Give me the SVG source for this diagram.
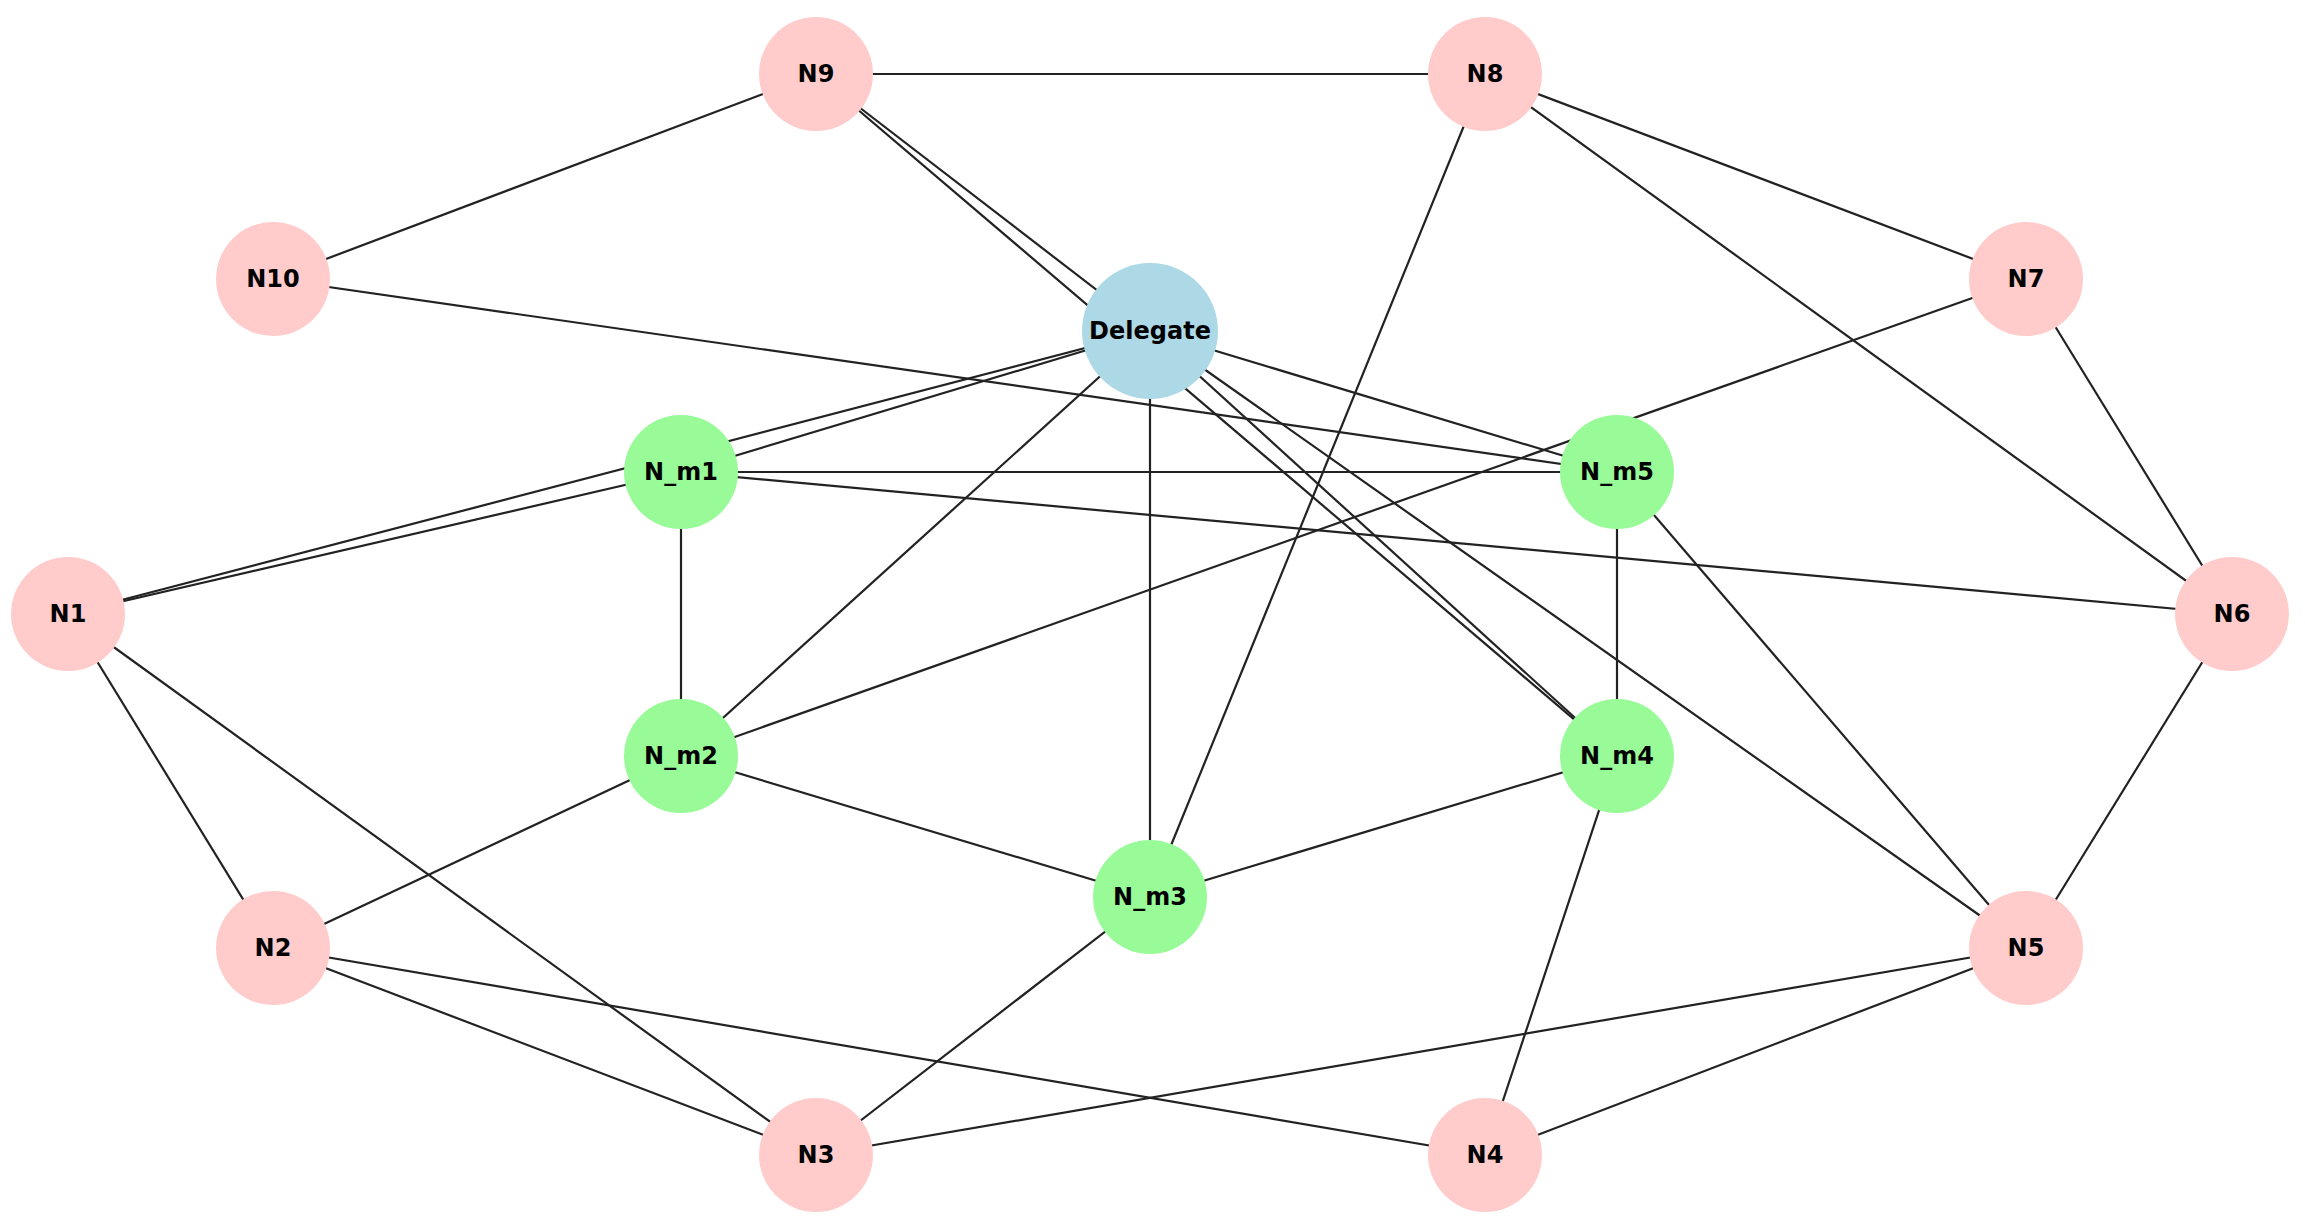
<svg xmlns="http://www.w3.org/2000/svg" width="2305" height="1226" viewBox="0 0 2305 1226">
<style>
.e{stroke:#222;stroke-width:2.2;fill:none}
.p{fill:#ffcccb}.g{fill:#98fb98}.b{fill:#add8e6}
text{font-family:"DejaVu Sans",sans-serif;font-weight:bold;font-size:24px;text-anchor:middle;dominant-baseline:central;fill:#000}
</style>
<rect width="2305" height="1226" fill="#fff"/>
<g id="edges" class="e">
<line x1="816" y1="74" x2="1485" y2="74"/>
<line x1="816" y1="74" x2="273" y2="279"/>
<line x1="816" y1="74" x2="1150" y2="331"/>
<line x1="816" y1="74" x2="1617" y2="756"/>
<line x1="1150" y1="331" x2="68" y2="614"/>
<line x1="681" y1="472" x2="68" y2="614"/>
<line x1="1150" y1="331" x2="681" y2="472"/>
<line x1="273" y1="279" x2="1617" y2="472"/>
<line x1="1150" y1="331" x2="1617" y2="472"/>
<line x1="1150" y1="331" x2="681" y2="756"/>
<line x1="1150" y1="331" x2="1150" y2="897"/>
<line x1="1150" y1="331" x2="2026" y2="948"/>
<line x1="1150" y1="331" x2="1617" y2="756"/>
<line x1="1485" y1="74" x2="1150" y2="897"/>
<line x1="1485" y1="74" x2="2026" y2="279"/>
<line x1="1485" y1="74" x2="2232" y2="614"/>
<line x1="2026" y1="279" x2="2232" y2="614"/>
<line x1="2026" y1="279" x2="681" y2="756"/>
<line x1="681" y1="472" x2="1617" y2="472"/>
<line x1="681" y1="472" x2="2232" y2="614"/>
<line x1="681" y1="472" x2="681" y2="756"/>
<line x1="1617" y1="472" x2="1617" y2="756"/>
<line x1="1617" y1="472" x2="2026" y2="948"/>
<line x1="68" y1="614" x2="273" y2="948"/>
<line x1="68" y1="614" x2="816" y2="1155"/>
<line x1="681" y1="756" x2="273" y2="948"/>
<line x1="681" y1="756" x2="1150" y2="897"/>
<line x1="1617" y1="756" x2="1150" y2="897"/>
<line x1="1617" y1="756" x2="1485" y2="1155"/>
<line x1="1150" y1="897" x2="816" y2="1155"/>
<line x1="273" y1="948" x2="816" y2="1155"/>
<line x1="273" y1="948" x2="1485" y2="1155"/>
<line x1="2026" y1="948" x2="816" y2="1155"/>
<line x1="2026" y1="948" x2="1485" y2="1155"/>
<line x1="2232" y1="614" x2="2026" y2="948"/>
</g>
<g id="N9"><circle class="p" cx="816" cy="74" r="57"/><text x="816" y="74">N9</text></g>
<g id="N8"><circle class="p" cx="1485" cy="74" r="57"/><text x="1485" y="74">N8</text></g>
<g id="N10"><circle class="p" cx="273" cy="279" r="57"/><text x="273" y="279">N10</text></g>
<g id="N7"><circle class="p" cx="2026" cy="279" r="57"/><text x="2026" y="279">N7</text></g>
<g id="Delegate"><circle class="b" cx="1150" cy="331" r="68"/><text x="1150" y="331">Delegate</text></g>
<g id="N_m1"><circle class="g" cx="681" cy="472" r="57"/><text x="681" y="472">N_m1</text></g>
<g id="N_m5"><circle class="g" cx="1617" cy="472" r="57"/><text x="1617" y="472">N_m5</text></g>
<g id="N1"><circle class="p" cx="68" cy="614" r="57"/><text x="68" y="614">N1</text></g>
<g id="N6"><circle class="p" cx="2232" cy="614" r="57"/><text x="2232" y="614">N6</text></g>
<g id="N_m2"><circle class="g" cx="681" cy="756" r="57"/><text x="681" y="756">N_m2</text></g>
<g id="N_m4"><circle class="g" cx="1617" cy="756" r="57"/><text x="1617" y="756">N_m4</text></g>
<g id="N_m3"><circle class="g" cx="1150" cy="897" r="57"/><text x="1150" y="897">N_m3</text></g>
<g id="N2"><circle class="p" cx="273" cy="948" r="57"/><text x="273" y="948">N2</text></g>
<g id="N5"><circle class="p" cx="2026" cy="948" r="57"/><text x="2026" y="948">N5</text></g>
<g id="N3"><circle class="p" cx="816" cy="1155" r="57"/><text x="816" y="1155">N3</text></g>
<g id="N4"><circle class="p" cx="1485" cy="1155" r="57"/><text x="1485" y="1155">N4</text></g>
</svg>
